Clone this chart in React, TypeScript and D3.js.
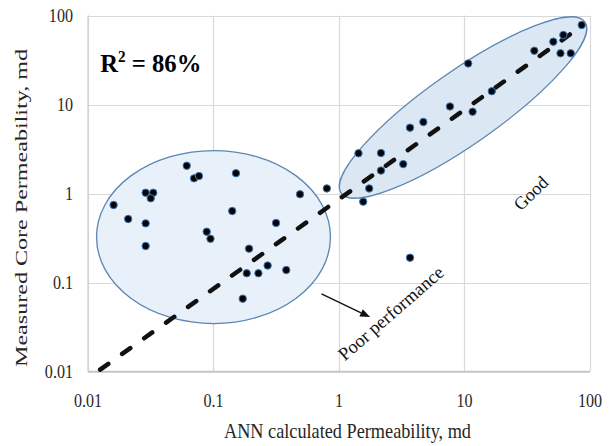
import React from 'react';
import * as d3 from 'd3';

// ANN calculated permeability (md) vs measured core permeability (md)
const annCalculated = [0.016, 0.0209, 0.0288, 0.0331, 0.0316, 0.0288, 0.0288, 0.0612, 0.07, 0.0766, 0.0883, 0.0946, 0.151, 0.141, 0.489, 0.315, 0.192, 0.184, 0.228, 0.27, 0.38, 0.171, 0.8, 1.43, 1.56, 1.74, 2.16, 2.16, 3.25, 3.68, 4.7, 7.66, 11.6, 10.7, 16.5, 36.0, 51.0, 61.3, 58.2, 70.2, 85.9, 3.68];
const measuredCore = [0.743, 0.517, 1.02, 1.02, 0.883, 0.462, 0.257, 2.05, 1.48, 1.57, 0.372, 0.31, 1.69, 0.636, 0.98, 0.467, 0.24, 0.127, 0.127, 0.155, 0.138, 0.0658, 1.14, 2.83, 0.81, 1.14, 2.85, 1.81, 2.14, 5.49, 6.36, 9.5, 8.3, 28.9, 14.1, 40.2, 50.8, 60.4, 37.6, 37.6, 78.2, 0.19];

const tickValues = [0.01, 0.1, 1, 10, 100];
const tickLabels = ['0.01', '0.1', '1', '10', '100'];

// dashed trend line endpoints (data space)
const trendX = [0.0125, 88];
const trendY = [0.0105, 78];

// ellipses (data space)
const poorCenter = [0.1, 0.324];
const poorSpanDecades = [0.932, 0.972];
const goodTips = [[1.04, 1.01], [91.2, 84.5]];

// annotations (data space)
const arrowFrom = [0.725, 0.0743];
const arrowTo = [1.77, 0.0409];
const poorLabelPos = [2.79, 0.04];
const goodLabelPos = [36.5, 0.9];
const r2Pos = [0.0125, 23.2];

const W = 612, H = 446;
const left = 88, right = 590, top = 15.5, bottom = 371.5;
const SERIF = '"Liberation Serif", "Times New Roman", serif';

export default function App() {
  const x = d3.scaleLog().domain([0.01, 100]).range([left, right]);
  const y = d3.scaleLog().domain([0.01, 100]).range([bottom, top]);

  const line = d3.line<number>()
    .x((_, i) => x(trendX[i]))
    .y((_, i) => y(trendY[i]));

  const pcx = x(poorCenter[0]);
  const pcy = y(poorCenter[1]);
  const prx = x(poorCenter[0] * Math.pow(10, poorSpanDecades[0])) - pcx;
  const pry = pcy - y(poorCenter[1] * Math.pow(10, poorSpanDecades[1]));

  const g1 = [x(goodTips[0][0]), y(goodTips[0][1])];
  const g2 = [x(goodTips[1][0]), y(goodTips[1][1])];
  const gcx = (g1[0] + g2[0]) / 2;
  const gcy = (g1[1] + g2[1]) / 2;
  const ga = Math.hypot(g2[0] - g1[0], g2[1] - g1[1]) / 2;
  const gAng = (Math.atan2(g2[1] - g1[1], g2[0] - g1[0]) * 180) / Math.PI;

  const ax1 = x(arrowFrom[0]), ay1 = y(arrowFrom[1]);
  const ax2 = x(arrowTo[0]), ay2 = y(arrowTo[1]);
  const aAng = Math.atan2(ay2 - ay1, ax2 - ax1);
  const headL = 10, headW = 4;
  const bx = ax2 - headL * Math.cos(aAng), by = ay2 - headL * Math.sin(aAng);
  const head = [
    [ax2, ay2],
    [bx + headW * Math.sin(aAng), by - headW * Math.cos(aAng)],
    [bx - headW * Math.sin(aAng), by + headW * Math.cos(aAng)],
  ];

  const sx = 0.87;

  return (
    <svg width={W} height={H} style={{ position: 'absolute', left: 0, top: 0, background: '#fff' }} fontFamily={SERIF}>
      <rect width={W} height={H} fill="#fff" />
      {/* grid */}
      {tickValues.map((v) => (
        <line key={'gx' + v} x1={Math.round(x(v)) + 0.5} x2={Math.round(x(v)) + 0.5} y1={top} y2={bottom} stroke="#d9d9d9" strokeWidth={1.2} />
      ))}
      {tickValues.map((v) => (
        <line key={'gy' + v} y1={Math.round(y(v)) + 0.5} y2={Math.round(y(v)) + 0.5} x1={left} x2={right} stroke="#d9d9d9" strokeWidth={1.2} />
      ))}
      <line x1={left} x2={right} y1={bottom} y2={bottom} stroke="#c4c4c4" strokeWidth={1.3} />
      <line x1={left} x2={left} y1={top} y2={bottom} stroke="#cfcfcf" strokeWidth={1.2} />

      {/* ellipses */}
      <ellipse cx={pcx} cy={pcy} rx={prx} ry={pry} fill="#e8f0f9" stroke="#5b86b3" strokeWidth={1.3} />
      <ellipse cx={gcx} cy={gcy} rx={ga} ry={36.5} transform={`rotate(${gAng} ${gcx} ${gcy})`} fill="#dce7f4" stroke="#5b86b3" strokeWidth={1.3} />

      {/* trend line */}
      <path d={line(trendX) || ''} fill="none" stroke="#111" strokeWidth={4.5} strokeDasharray="10 17" strokeLinecap="round" />

      {/* points */}
      {annCalculated.map((v, i) => (
        <circle key={'p' + i} cx={x(v)} cy={y(measuredCore[i])} r={3.7} fill="#050505" stroke="#3f78b8" strokeWidth={1} />
      ))}

      {/* arrow */}
      <line x1={ax1} y1={ay1} x2={bx} y2={by} stroke="#111" strokeWidth={1.4} />
      <polygon points={head.map((p) => p.join(',')).join(' ')} fill="#111" />

      {/* annotations */}
      <g transform={`translate(${x(poorLabelPos[0])},${y(poorLabelPos[1])}) rotate(-41)`}>
        <text textAnchor="middle" fontSize={18.5} fill="#111">Poor performance</text>
      </g>
      <g transform={`translate(${x(goodLabelPos[0])},${y(goodLabelPos[1])}) rotate(-44)`}>
        <text textAnchor="middle" fontSize={18} fill="#111">Good</text>
      </g>
      <g transform={`translate(${x(r2Pos[0])},${y(r2Pos[1])}) scale(0.95,1)`}>
        <text fontSize={26} fontWeight="bold" fill="#000">
          R<tspan fontSize={16} dy={-10}>2</tspan>
          <tspan dy={10}> = 86%</tspan>
        </text>
      </g>

      {/* tick labels */}
      {tickValues.map((v, i) => (
        <g key={'ty' + v} transform={`translate(73,${y(v)}) scale(${sx},1)`}>
          <text textAnchor="end" dy="0.34em" fontSize={18.5} fill="#262626">{tickLabels[i]}</text>
        </g>
      ))}
      {tickValues.map((v, i) => (
        <g key={'tx' + v} transform={`translate(${x(v)},406.5) scale(${sx},1)`}>
          <text textAnchor="middle" fontSize={18.5} fill="#262626">{tickLabels[i]}</text>
        </g>
      ))}

      {/* axis titles */}
      <text x={224} y={438} fontSize={21} fill="#262626" textLength={247} lengthAdjust="spacingAndGlyphs">ANN calculated Permeability, md</text>
      <g transform={`translate(27,208) rotate(-90)`}>
        <text textAnchor="middle" fontSize={17} fill="#262626" textLength={318} lengthAdjust="spacingAndGlyphs">Measured Core Permeability, md</text>
      </g>
    </svg>
  );
}
